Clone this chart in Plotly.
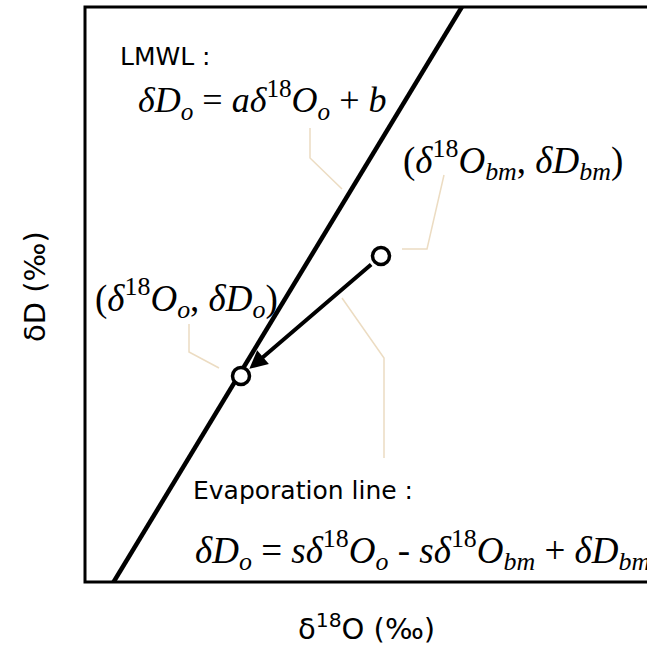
import plotly.graph_objects as go

# Schematic coordinates (arbitrary δ units)
lmwl_x = [28, 392]
lmwl_y = [-1, 600]

point_o = (156, 206)      # (δ18O_o, δD_o)
point_bm = (296, 326)     # (δ18O_bm, δD_bm)

leader_lmwl_x = [225, 225, 257]
leader_lmwl_y = [454, 424, 393]
leader_bm_x = [359, 342, 317]
leader_bm_y = [407, 333, 333]
leader_o_x = [104, 104, 134]
leader_o_y = [258, 230, 214]
leader_evap_x = [257, 299, 299]
leader_evap_y = [284, 224, 124]

x_range = [0, 562]
y_range = [0, 575]

SERIF = "Liberation Serif"
SANS = "DejaVu Sans"
LEADER = "#ecdcc2"

fig = go.Figure()

for lx, ly in [(leader_lmwl_x, leader_lmwl_y), (leader_bm_x, leader_bm_y),
               (leader_o_x, leader_o_y), (leader_evap_x, leader_evap_y)]:
    fig.add_trace(go.Scatter(x=lx, y=ly, mode="lines",
                             line=dict(color=LEADER, width=1.5),
                             hoverinfo="skip", showlegend=False))

fig.add_trace(go.Scatter(x=lmwl_x, y=lmwl_y, mode="lines",
                         line=dict(color="black", width=4.5),
                         showlegend=False))

# Evaporation arrow
fig.add_annotation(x=point_o[0], y=point_o[1], ax=point_bm[0], ay=point_bm[1],
                   xref="x", yref="y", axref="x", ayref="y",
                   text="", showarrow=True, arrowhead=2, arrowsize=0.9,
                   arrowwidth=4, arrowcolor="black", standoff=11, startstandoff=11)

fig.add_trace(go.Scatter(x=[point_o[0], point_bm[0]], y=[point_o[1], point_bm[1]],
                         mode="markers",
                         marker=dict(size=17, color="white",
                                     line=dict(color="black", width=3.5)),
                         showlegend=False, cliponaxis=False))

def txt(x, y, text, font, size):
    fig.add_annotation(x=x, y=y, xref="x", yref="y", text=text, showarrow=False,
                       xanchor="left", yanchor="middle",
                       font=dict(family=font, size=size, color="black"))

D18 = "<i>δ</i><sup>18</sup>"
txt(33, 526, "LMWL :", SANS, 25)
txt(51, 482, f"<i>δD<sub>o</sub></i> = <i>a</i>{D18}<i>O<sub>o</sub></i> + <i>b</i>", SERIF, 36)
txt(316, 422, f"({D18}<i>O<sub>bm</sub></i>, <i>δD<sub>bm</sub></i>)", SERIF, 37)
txt(8, 284, f"({D18}<i>O<sub>o</sub></i>, <i>δD<sub>o</sub></i>)", SERIF, 37)
txt(106, 92, "Evaporation line :", SANS, 25)
txt(108, 32, f"<i>δD<sub>o</sub></i> = <i>s</i>{D18}<i>O<sub>o</sub></i> - <i>s</i>{D18}<i>O<sub>bm</sub></i> + <i>δD<sub>bm</sub></i>", SERIF, 37)

# axis titles
fig.add_annotation(x=0.5, y=-45 / 575, xref="paper", yref="paper",
                   text="δ<sup>18</sup>O (‰)", showarrow=False,
                   xanchor="center", yanchor="middle",
                   font=dict(family=SANS, size=29, color="black"))
fig.add_annotation(x=-50 / 562, y=(582 - 287) / 575, xref="paper", yref="paper",
                   text="δD (‰)", showarrow=False, textangle=-90,
                   xanchor="center", yanchor="middle",
                   font=dict(family=SANS, size=29, color="black"))

# frame (open on right side, which runs off the canvas)
fig.add_shape(type="path", xref="paper", yref="paper",
              path="M 1.05 1 L 0 1 L 0 0 L 1.05 0",
              line=dict(color="black", width=3))

fig.update_xaxes(range=x_range, visible=False, fixedrange=True)
fig.update_yaxes(range=y_range, visible=False, fixedrange=True)
fig.update_layout(width=647, height=650,
                  margin=dict(l=85, r=0, t=7, b=68),
                  plot_bgcolor="white", paper_bgcolor="white",
                  showlegend=False)

fig.write_html("out.html")
